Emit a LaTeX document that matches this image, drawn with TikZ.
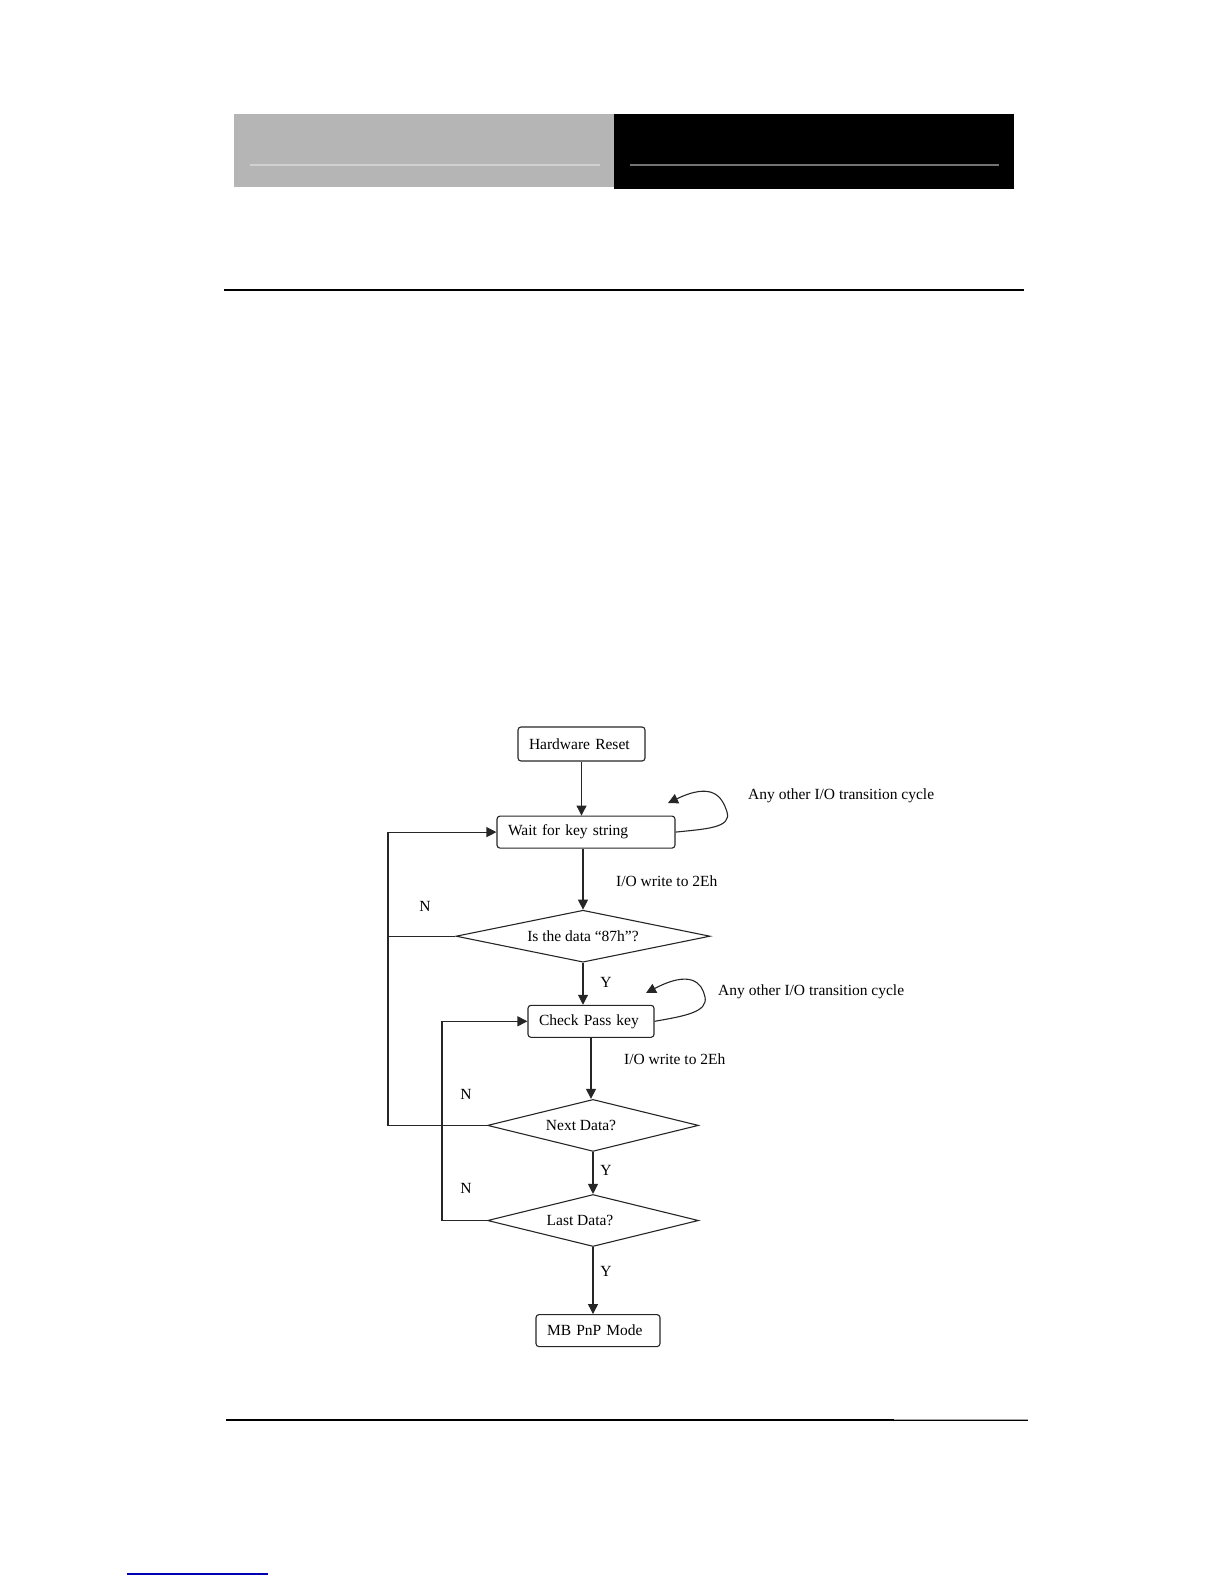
\documentclass[tikz,border=0pt]{standalone}
\usepackage{fontspec}
\setmainfont{Liberation Serif}
\usetikzlibrary{shapes.geometric, arrows.meta, positioning}

\begin{document}
\begin{tikzpicture}[
        x=1pt, y=1pt,
        font=\fontsize{15.5}{18}\selectfont,
        stepbox/.style={
            rectangle,
            draw=black!85,
            rounded corners=3pt,
            line width=1.1pt,
            minimum height=32pt,
            inner xsep=11pt,
            align=left
        },
        decision/.style={
            diamond,
            draw=black!85,
            line width=1.1pt,
            inner sep=0pt,
            minimum height=52pt
        },
        tag/.style={inner sep=0pt, anchor=west},
        wire/.style={line width=1.1pt, draw=black!85},
        arrow/.style={-{Triangle[length=10pt,width=10pt]}, line width=1.1pt, draw=black!85}
    ]
    \useasboundingbox (0,0) rectangle (1224,-1584);

    % page header and rules
    \fill[black!29] (234,-114) rectangle (614,-187);
    \draw[black!18, line width=1.2pt] (250,-165) -- (600,-165);
    \fill[black] (614,-114) rectangle (1014,-189);
    \draw[black!55, line width=1.2pt] (630,-165) -- (999,-165);
    \draw[line width=1.5pt] (224,-290) -- (1024,-290);
    \draw[line width=2.6pt] (226,-1420) -- (1028,-1420);
    \draw[black!35, line width=1pt] (894,-1419) -- (1028,-1419);
    \draw[blue!70!black, line width=1.2pt] (127,-1574) -- (268,-1574);

    % flow chart
    \node (hr) [stepbox, text width=105pt, minimum height=34pt] at (581.5,-744) {Hardware Reset};
    \node (wait) [stepbox, text width=156pt, below=54pt of hr, xshift=4.5pt] {Wait for key string};
    \node (dat) [decision, minimum width=254pt, aspect=4.9, below=61pt of wait, xshift=-3pt] {Is the data “87h”?};
    \node (chk) [stepbox, text width=104pt, below=42pt of dat, xshift=8pt] {Check Pass key};
    \node (nxt) [decision, minimum width=211pt, aspect=4.06, below=61pt of chk, xshift=2pt] {Next Data?\hspace*{24pt}};
    \node (lst) [decision, minimum width=211pt, aspect=4.06, below=42pt of nxt] {Last Data?\hspace*{26pt}};
    \node (mb) [stepbox, text width=102pt, below=67pt of lst, xshift=5pt] {MB PnP Mode};

    \node (any1) [tag] at (748,-796) {Any other I/O transition cycle};
    \node (any2) [tag] at (718,-992) {Any other I/O transition cycle};
    \node (wr1) [tag] at (616,-881) {I/O write to 2Eh};
    \node (wr2) [tag] at (624,-1059) {I/O write to 2Eh};
    \node (n1) at (425,-906) {N};
    \node (n2) at (466,-1094) {N};
    \node (n3) at (466,-1188) {N};
    \node (y1) at (606,-982) {Y};
    \node (y2) at (606,-1170) {Y};
    \node (y3) at (606,-1271) {Y};

    \coordinate (railA) at (388,-832);
    \coordinate (railB) at (442,-1019);

    \draw [arrow] (hr.south) -- (hr.south |- wait.north);
    \draw [arrow] (wait.south -| dat.north) -- (dat.north);
    \draw [arrow] (dat.south) -- (dat.south |- chk.north);
    \draw [arrow] (chk.south) -- (chk.south |- nxt.north);
    \draw [arrow] (nxt.south) -- (lst.north);
    \draw [arrow] (lst.south) -- (lst.south |- mb.north);

    \draw [wire] (dat.west) -- (dat.west -| railA);
    \draw [arrow] (nxt.west) -- (nxt.west -| railA) |- (wait.west);
    \draw [arrow] (lst.west) -- (lst.west -| railB) |- (chk.west);

    % self loops
    \draw [arrow] (wait.east) .. controls (705,-829) and (732,-828) .. (727,-812)
        .. controls (722,-796) and (712,-782) .. (668,-803);
    \draw [arrow] (chk.east) .. controls (685,-1016) and (708,-1012) .. (705,-997)
        .. controls (702,-982) and (690,-970) .. (646,-993);

\end{tikzpicture}
\end{document}
